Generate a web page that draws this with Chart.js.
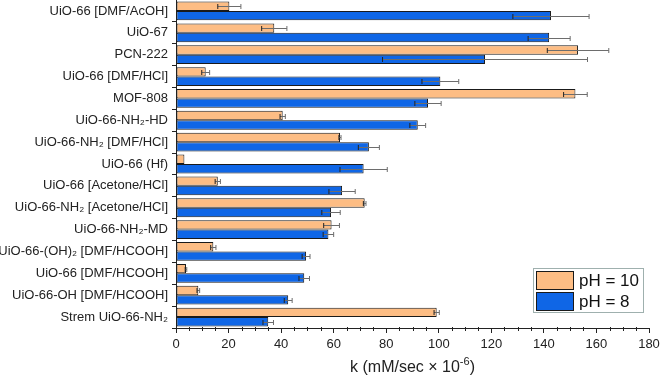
<!DOCTYPE html>
<html>
<head>
<meta charset="utf-8">
<script src="https://cdn.jsdelivr.net/npm/chart.js@4/dist/chart.umd.min.js"></script>
<style>
  html, body { margin: 0; padding: 0; background: #fff; }
  #wrap { width: 660px; height: 380px; }
</style>
</head>
<body>
<div id="wrap"><canvas id="chart" width="660" height="380"></canvas></div>
<script>
/* -------------------- data -------------------- */
const categories = [
  'UiO-66 [DMF/AcOH]',
  'UiO-67',
  'PCN-222',
  'UiO-66 [DMF/HCl]',
  'MOF-808',
  'UiO-66-NH₂-HD',
  'UiO-66-NH₂ [DMF/HCl]',
  'UiO-66 (Hf)',
  'UiO-66 [Acetone/HCl]',
  'UiO-66-NH₂ [Acetone/HCl]',
  'UiO-66-NH₂-MD',
  'UiO-66-(OH)₂ [DMF/HCOOH]',
  'UiO-66 [DMF/HCOOH]',
  'UiO-66-OH [DMF/HCOOH]',
  'Strem UiO-66-NH₂'
];

const ph10Values = [20.3, 37.4, 153, 11.3, 152, 40.6, 62.4, 3.2, 15.9, 71.8, 59.2, 14.2, 3.8, 8.5, 99.2];
const ph10Errors = [4.4, 4.8, 11.7, 1.5, 4.5, 1.0, 0.4, 0, 1.0, 0.5, 3.0, 1.0, 0.3, 0.5, 1.0];

const ph8Values  = [142.7, 142, 117.6, 100.6, 95.9, 92, 73.4, 71.4, 63.2, 59, 58, 49.5, 48.8, 42.7, 35.1];
const ph8Errors  = [14.5, 8, 39, 7, 5, 3, 4, 9, 5, 3.5, 2, 1.5, 2, 1.5, 2];

const xTicks = [0, 20, 40, 60, 80, 100, 120, 140, 160, 180];

/* -------------------- style -------------------- */
const COLORS = {
  orange: '#fdbd84',
  blue:   '#0f66e6',
  edge:   '#1a1a1a',
  err:    '#6d6d6d',
  axis:   '#222'
};
const FONT = 'Liberation Sans, Arial, sans-serif';

/* -------------------- plugins -------------------- */
const errorBars = {
  id: 'errorBars',
  afterDatasetsDraw(chart) {
    const { ctx } = chart;
    const x = chart.scales.x;
    const errs = [ph10Errors, ph8Errors];
    ctx.save();
    chart.data.datasets.forEach((ds, di) => {
      const meta = chart.getDatasetMeta(di);
      meta.data.forEach((bar, i) => {
        const e = errs[di][i];
        if (!e) return;
        const v = ds.data[i];
        const x0 = x.getPixelForValue(v - e);
        const x1 = x.getPixelForValue(v + e);
        const y = Math.round(bar.y) + 0.5;
        ctx.strokeStyle = COLORS.err;
        ctx.lineWidth = 1;
        ctx.beginPath();
        ctx.moveTo(x0, y); ctx.lineTo(x1, y);
        ctx.moveTo(x1, y - 2.5); ctx.lineTo(x1, y + 2.5);
        ctx.stroke();
        ctx.strokeStyle = '#222';
        ctx.beginPath();
        ctx.moveTo(x0, y - 2.5); ctx.lineTo(x0, y + 2.5);
        ctx.stroke();
      });
    });
    ctx.restore();
  }
};

// minor x ticks + axis title with a real superscript
const axisExtras = {
  id: 'axisExtras',
  afterDraw(chart) {
    const { ctx } = chart;
    const x = chart.scales.x;
    const yb = chart.chartArea.bottom;
    ctx.save();
    ctx.strokeStyle = COLORS.axis;
    ctx.lineWidth = 1;
    ctx.beginPath();
    for (let v = 0; v <= 180; v += 5) {
      if (v % 20 === 0) continue;
      const px = Math.round(x.getPixelForValue(v)) + 0.5;
      ctx.moveTo(px, yb - 1);
      ctx.lineTo(px, yb + 3);
    }
    ctx.stroke();

    const main = 'k (mM/sec × 10';
    const sup = '-6';
    const tail = ')';
    const fMain = `16px ${FONT}`;
    const fSup = `11px ${FONT}`;
    ctx.font = fMain;
    const wMain = ctx.measureText(main).width;
    const wTail = ctx.measureText(tail).width;
    ctx.font = fSup;
    const wSup = ctx.measureText(sup).width;
    const total = wMain + wSup + wTail;
    const cx = (chart.chartArea.left + chart.chartArea.right) / 2;
    let tx = cx - total / 2;
    const base = 372;
    ctx.fillStyle = '#222';
    ctx.textBaseline = 'alphabetic';
    ctx.font = fMain;
    ctx.fillText(main, tx, base);
    tx += wMain;
    ctx.font = fSup;
    ctx.fillText(sup, tx, base - 7);
    tx += wSup;
    ctx.font = fMain;
    ctx.fillText(tail, tx, base);
    ctx.restore();
  }
};

const boxLegend = {
  id: 'boxLegend',
  afterDraw(chart) {
    const { ctx } = chart;
    const x = chart.scales.x;
    const bx = Math.round(x.getPixelForValue(136));
    const by = 268;
    const bw = 110, bh = 44;
    ctx.save();
    ctx.fillStyle = '#fff';
    ctx.fillRect(bx, by, bw, bh);
    ctx.strokeStyle = '#9fb0ae';
    ctx.lineWidth = 1;
    ctx.strokeRect(bx + 0.5, by + 0.5, bw, bh);
    ctx.font = `17px ${FONT}`;
    ctx.textBaseline = 'middle';
    chart.data.datasets.forEach((ds, i) => {
      const sy = by + 3 + i * 21;
      ctx.fillStyle = ds.backgroundColor;
      ctx.fillRect(bx + 3, sy, 37, 18);
      ctx.strokeStyle = COLORS.edge;
      ctx.strokeRect(bx + 3.5, sy + 0.5, 37, 18);
      ctx.fillStyle = '#111';
      ctx.fillText(ds.label, bx + 46, sy + 10);
    });
    ctx.restore();
  }
};

/* -------------------- chart -------------------- */
new Chart(document.getElementById('chart').getContext('2d'), {
  type: 'bar',
  data: {
    labels: categories,
    datasets: [
      {
        label: 'pH = 10',
        data: ph10Values,
        backgroundColor: COLORS.orange,
        borderColor: COLORS.edge,
        borderWidth: 1,
        borderSkipped: false,
        categoryPercentage: 0.86,
        barPercentage: 1.0
      },
      {
        label: 'pH = 8',
        data: ph8Values,
        backgroundColor: COLORS.blue,
        borderColor: COLORS.edge,
        borderWidth: 1,
        borderSkipped: false,
        categoryPercentage: 0.86,
        barPercentage: 1.0
      }
    ]
  },
  options: {
    indexAxis: 'y',
    responsive: false,
    animation: false,
    layout: { padding: { top: 0, right: 11, left: 0, bottom: 0 } },
    plugins: {
      legend: { display: false },
      tooltip: { enabled: false }
    },
    scales: {
      x: {
        min: 0,
        max: 180,
        afterBuildTicks: (s) => { s.ticks = xTicks.map((v) => ({ value: v })); },
        afterFit: (s) => { s.height = 52; s.paddingLeft = 0; s.paddingRight = 0; },
        border: { color: COLORS.axis, width: 1 },
        grid: { drawOnChartArea: false, tickLength: 5, color: COLORS.axis },
        ticks: { color: '#222', padding: 4, font: { family: FONT, size: 13 } }
      },
      y: {
        afterFit: (s) => { s.width = 176; s.paddingTop = 0; s.paddingBottom = 0; },
        border: { color: COLORS.axis, width: 1 },
        grid: { drawOnChartArea: false, offset: true, tickLength: 4, color: COLORS.axis },
        ticks: { color: '#222', padding: 4, autoSkip: false, font: { family: FONT, size: 13 } }
      }
    }
  },
  plugins: [errorBars, axisExtras, boxLegend]
});
</script>
</body>
</html>
